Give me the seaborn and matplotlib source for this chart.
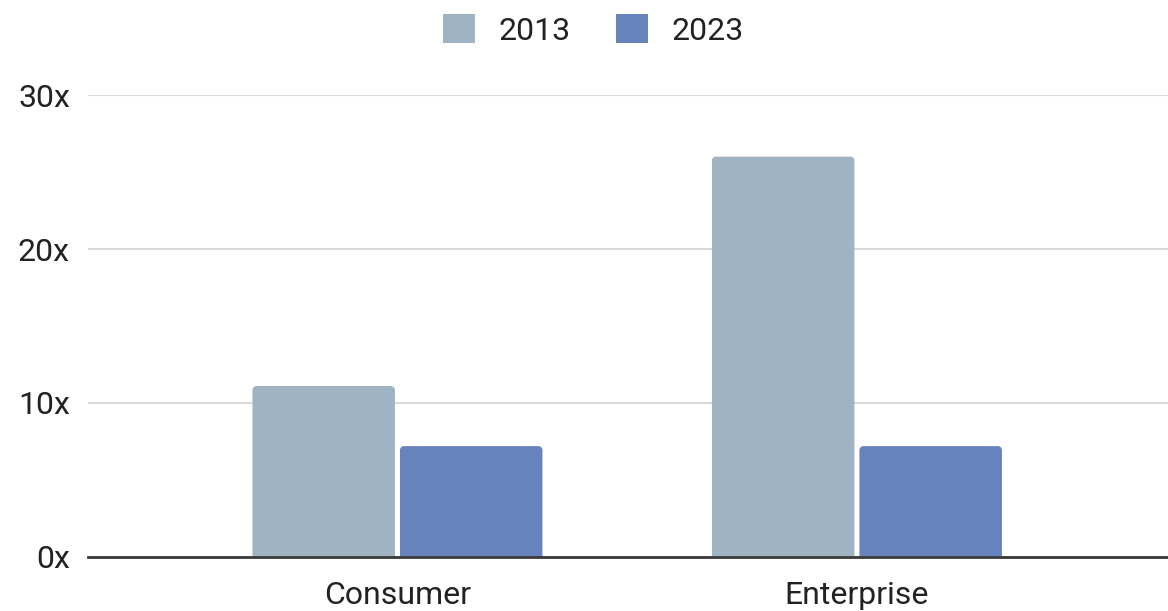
import matplotlib
matplotlib.use("Agg")
import matplotlib.pyplot as plt
from matplotlib.path import Path
from matplotlib.patches import PathPatch
import seaborn as sns
import pandas as pd

categories = ["Consumer", "Enterprise"]
years = ["2013", "2023"]
values_2013 = [11.1, 26.0]
values_2023 = [7.2, 7.2]
y_ticks = [0, 10, 20, 30]
y_tick_labels = ["0x", "10x", "20x", "30x"]

df = pd.DataFrame({
    "segment": categories * 2,
    "year": [years[0]] * len(categories) + [years[1]] * len(categories),
    "multiple": values_2013 + values_2023,
})

sns.set_theme(style="white")
plt.rcParams["font.family"] = ["Roboto", "DejaVu Sans"]

fig = plt.figure(figsize=(11.68, 6.11), dpi=100)
ax = fig.add_axes([0.0753, 0.0884, 0.9247, 0.7561])

palette = {"2013": "#9fb4c2", "2023": "#6783bd"}
sns.barplot(data=df, x="segment", y="multiple", hue="year", hue_order=years,
            palette=palette, width=0.642, gap=0.034, saturation=1,
            linewidth=0, ax=ax, zorder=3)

ax.set_ylim(0, 30)
ax.set_xlim(-0.6736, 1.677)


def round_top(ax, rect, radius_px=4):
    """Swap a bar rectangle for a path with softly rounded top corners."""
    x0, y0 = rect.get_x(), rect.get_y()
    w, h = rect.get_width(), rect.get_height()
    bbox = ax.get_window_extent()
    (xl, xr), (yb, yt) = ax.get_xlim(), ax.get_ylim()
    rx = radius_px * (xr - xl) / bbox.width
    ry = radius_px * (yt - yb) / bbox.height
    x1, y1 = x0 + w, y0 + h
    k = 0.5523
    verts = [
        (x0, y0), (x0, y1 - ry),
        (x0, y1 - ry + k * ry), (x0 + rx - k * rx, y1), (x0 + rx, y1),
        (x1 - rx, y1),
        (x1 - rx + k * rx, y1), (x1, y1 - ry + k * ry), (x1, y1 - ry),
        (x1, y0), (x0, y0),
    ]
    codes = [Path.MOVETO, Path.LINETO,
             Path.CURVE4, Path.CURVE4, Path.CURVE4,
             Path.LINETO,
             Path.CURVE4, Path.CURVE4, Path.CURVE4,
             Path.LINETO, Path.CLOSEPOLY]
    patch = PathPatch(Path(verts, codes), facecolor=rect.get_facecolor(),
                      edgecolor="none", zorder=3)
    rect.set_visible(False)
    ax.add_patch(patch)


for bar in list(ax.patches):
    if bar.get_height() > 0:
        round_top(ax, bar)

ax.set_yticks(y_ticks)
ax.set_yticklabels(y_tick_labels)
ax.yaxis.grid(True, color="#dadada", linewidth=1.5, zorder=0)
ax.set_axisbelow(True)
ax.set_xlabel("")
ax.set_ylabel("")
for side in ["top", "right", "left"]:
    ax.spines[side].set_visible(False)
ax.spines["bottom"].set_color("#3a3a3a")
ax.spines["bottom"].set_linewidth(2)
ax.spines["bottom"].set_zorder(5)
ax.tick_params(axis="both", length=0, labelsize=23, colors="#222222")
ax.tick_params(axis="x", pad=17.5)
ax.tick_params(axis="y", pad=13)

handles, labels = ax.get_legend_handles_labels()
ax.legend_.remove()
leg = fig.legend(handles, labels, loc="center", bbox_to_anchor=(0.508, 0.951),
                 ncol=2, frameon=False, fontsize=23, handlelength=1.0,
                 handleheight=1.0, handletextpad=0.75, columnspacing=1.4,
                 labelcolor="#222222")

fig.savefig("out.png", dpi=100, facecolor="white")
